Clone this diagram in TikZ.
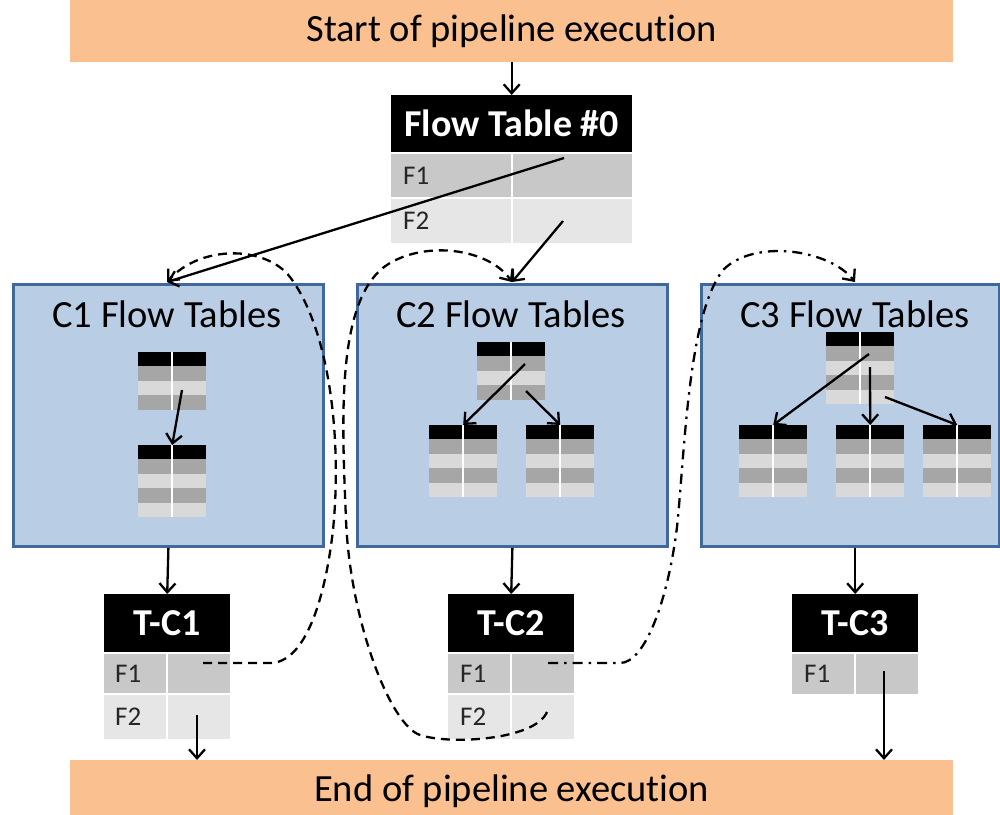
\documentclass[tikz,border=0pt]{standalone}
\usepackage{fontspec}
\setmainfont[Ligatures=NoCommon]{Carlito}
\usetikzlibrary{arrows.meta,calc}

\definecolor{barorange}{RGB}{250,192,144}
\definecolor{boxfill}{RGB}{185,205,229}
\definecolor{boxline}{RGB}{65,104,155}
\definecolor{rowA}{RGB}{200,200,200}
\definecolor{rowB}{RGB}{230,230,230}
\definecolor{miniA}{RGB}{166,166,166}
\definecolor{miniB}{RGB}{217,217,217}
\definecolor{labelgray}{RGB}{38,38,38}

\tikzset{
  bar/.style={fill=barorange, inner sep=0pt, anchor=north west,
    minimum width=883pt, minimum height=62pt, font=\fontsize{38.5}{42}\selectfont},
  groupbox/.style={fill=boxfill, draw=boxline, line width=2.8pt, inner sep=0pt,
    anchor=north west, minimum width=310pt, minimum height=262pt},
  grouptitle/.style={inner sep=0pt, font=\fontsize{38.5}{42}\selectfont},
  thead/.style={fill=black, text=white, inner sep=0pt, anchor=north west,
    font=\bfseries\fontsize{38}{42}\selectfont},
  rowone/.style={fill=rowA, inner sep=0pt, anchor=north west},
  rowtwo/.style={fill=rowB, inner sep=0pt, anchor=north west},
  flabel/.style={inner sep=0pt, anchor=west, text=labelgray, font=\fontsize{27}{30}\selectfont},
  divider/.style={draw=white, line width=2pt},
  minihead/.style={fill=black, inner sep=0pt, anchor=north west,
    minimum width=68pt, minimum height=14pt},
  link/.style={draw=black, line width=2.3pt, -{Straight Barb[length=9pt,width=16pt,line width=2.3pt]}},
  dashlink/.style={link, dash pattern=on 9pt off 6pt},
  dotlink/.style={link, dash pattern=on 10pt off 6pt on 2.5pt off 6pt},
}

% small flow table: name, left x, top y, number of data rows
\newcommand\minitab[4]{%
  \node[minihead] (#1) at (#2,#3) {};
  \foreach \k in {1,...,#4}{%
    \pgfmathsetmacro\yy{#3+14+(\k-1)*14.5}%
    \ifodd\k
      \fill[miniA] (#2,\yy) rectangle ++(68,14.5);
    \else
      \fill[miniB] (#2,\yy) rectangle ++(68,14.5);
    \fi
  }%
  \draw[white, line width=1.6pt] (#1.north) -- ++(0,{14+#4*14.5});
}

\begin{document}
\begin{tikzpicture}[x=1pt, y=-1pt]
\useasboundingbox (0,0) rectangle (1000,814);

% start and end bars
\node[bar] (start) at (70,0) {Start of pipeline execution};
\node[bar] (end) at (70,760) {End of pipeline execution};

% Flow Table #0
\node[thead, minimum width=241pt, minimum height=57pt] (ft0) at (391,95) {Flow Table \#0};
\node[rowone, minimum width=241pt, minimum height=43pt] (ft0a) at (391,154) {};
\node[rowtwo, minimum width=241pt, minimum height=44pt] (ft0b) at (391,199) {};
\node[flabel] (ft0al) at ($(ft0a.west)+(12,0)$) {F1};
\node[flabel] (ft0bl) at ($(ft0b.west)+(12,0)$) {F2};
\draw[divider] (ft0a.north) -- (ft0b.south);

% group boxes
\node[groupbox] (c1) at (12,283) {};
\node[groupbox] (c2) at (356,283) {};
\node[groupbox, minimum width=298pt] (c3) at (700,283) {};
\node[grouptitle] (c1t) at (167,314) {C1 Flow Tables};
\node[grouptitle] (c2t) at (511,314) {C2 Flow Tables};
\node[grouptitle] (c3t) at (855,314) {C3 Flow Tables};

% small tables inside the groups
\minitab{m1a}{138}{352}{3}
\minitab{m1b}{138}{445}{4}
\minitab{m2a}{477}{342}{3}
\minitab{m2l}{429}{425}{4}
\minitab{m2r}{526}{425}{4}
\minitab{m3a}{826}{332}{4}
\minitab{m3l}{739}{425}{4}
\minitab{m3m}{836}{425}{4}
\minitab{m3r}{923}{425}{4}

% terminal tables
\node[thead, minimum width=126pt, minimum height=58pt] (tc1) at (104,594) {T-C1};
\node[rowone, minimum width=126pt, minimum height=39pt] (tc1a) at (104,654) {};
\node[rowtwo, minimum width=126pt, minimum height=44pt] (tc1b) at (104,695) {};
\node[flabel] (tc1al) at ($(tc1a.west)+(11,0)$) {F1};
\node[flabel] (tc1bl) at ($(tc1b.west)+(11,0)$) {F2};
\draw[divider] (tc1a.north) -- (tc1b.south);

\node[thead, minimum width=126pt, minimum height=58pt] (tc2) at (448,594) {T-C2};
\node[rowone, minimum width=126pt, minimum height=39pt] (tc2a) at (448,654) {};
\node[rowtwo, minimum width=126pt, minimum height=44pt] (tc2b) at (448,695) {};
\node[flabel] (tc2al) at ($(tc2a.west)+(12,0)$) {F1};
\node[flabel] (tc2bl) at ($(tc2b.west)+(12,0)$) {F2};
\draw[divider] (tc2a.north) -- (tc2b.south);

\node[thead, minimum width=126pt, minimum height=58pt] (tc3) at (792,594) {T-C3};
\node[rowone, minimum width=126pt, minimum height=40pt] (tc3a) at (792,654) {};
\node[flabel] (tc3al) at ($(tc3a.west)+(12,0)$) {F1};
\draw[divider] (tc3a.north) -- (tc3a.south);

% connector end points inside tables and on box edges
\coordinate (ft0s1) at (564,158);
\coordinate (ft0s2) at (563,221);
\coordinate (c1in) at (167,282);
\coordinate (c2in) at (512,282);
\coordinate (c3in) at (855,282);
\coordinate (m1s) at (182,390);
\coordinate (m2s1) at (525,364);
\coordinate (m2s2) at (526,391);
\coordinate (m3s1) at (869,354);
\coordinate (m3s2) at (870,367);
\coordinate (m3s3) at (885,397);
\coordinate (tc1s1) at (203,663);
\coordinate (tc1s2) at (197,715);
\coordinate (tc2s1) at (548,663);
\coordinate (tc2s2) at (547,712);
\coordinate (tc3s1) at (884,671);

% solid connectors
\draw[link] (start.south) -- (ft0.north);
\draw[link] (ft0s1) -- (c1in);
\draw[link] (ft0s2) -- (c2in);
\draw[link] (m1s) -- (m1b.north);
\draw[link] (m2s1) -- (m2l.north);
\draw[link] (m2s2) -- (m2r.north);
\draw[link] (m3s1) -- (m3l.north);
\draw[link] (m3s2) -- (m3m.north);
\draw[link] (m3s3) -- (m3r.north);
\draw[link] (c1.south) -- (tc1.north);
\draw[link] (c2.south) -- (tc2.north);
\draw[link] (tc3.north |- c3.south) -- (tc3.north);
\draw[link] (tc1s2) -- (tc1s2 |- end.north);
\draw[link] (tc3s1) -- (tc3s1 |- end.north);

% goto connectors back into the groups
\draw[dashlink] (tc1s1) -- (270,663)
  .. controls (305,663) and (325,600) .. (333,530)
  .. controls (342,440) and (330,330) .. (290,277)
  .. controls (265,245) and (200,245) .. (c1in);
\draw[dashlink] (tc2s2)
  .. controls (535,740) and (450,745) .. (420,735)
  .. controls (390,725) and (350,620) .. (346,520)
  .. controls (342,420) and (335,295) .. (390,263)
  .. controls (430,240) and (490,250) .. (c2in);
\draw[dotlink] (tc2s1) -- (620,663)
  .. controls (645,663) and (668,600) .. (677,527)
  .. controls (685,450) and (688,315) .. (723,270)
  .. controls (755,238) and (830,250) .. (c3in);
\end{tikzpicture}
\end{document}
